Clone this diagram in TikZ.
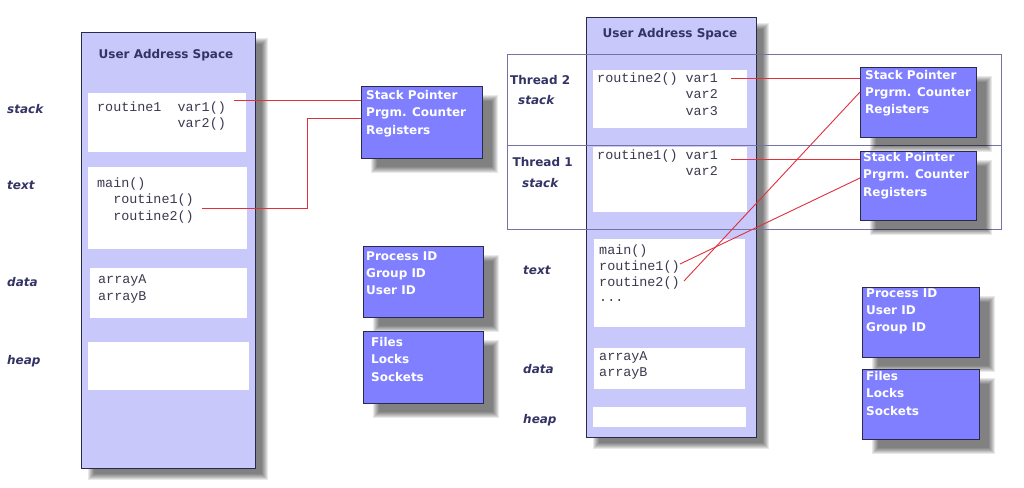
\documentclass[tikz,border=0pt]{standalone}
\usepackage{fontspec}
\setmainfont{DejaVu Sans}
\newfontfamily\monof{Liberation Mono}
\definecolor{navy}{HTML}{333366}
\definecolor{edgec}{HTML}{2A2A4C}
\definecolor{panelfill}{HTML}{C8C8FA}
\definecolor{boxblue}{HTML}{7F7FFF}
\definecolor{codecol}{HTML}{3A3A50}
\definecolor{redc}{HTML}{E0303C}
\definecolor{framec}{HTML}{7474A4}
\newcommand\softshadow[6]{%
  \foreach \k in {-3,...,3}{%
    \fill[black,opacity=0.09] ({#1+#5-\k},{#2+#6-\k}) rectangle ({#1+#3+#5+\k},{#2+#4+#6+\k});}}
\tikzset{
  panelbox/.style={draw=edgec, line width=1.1pt, fill=panelfill, anchor=north west, inner sep=0pt},
  membox/.style={fill=white, draw=none, anchor=north west, inner sep=0pt},
  infobox/.style={draw=edgec, line width=0.9pt, fill=boxblue, anchor=north west, inner sep=0pt},
  infotext/.style={anchor=north west, inner sep=0pt, align=left, text=white,
    font=\fontsize{12}{17.3}\selectfont\bfseries, execute at begin node=\strut},
  codetext/.style={anchor=north west, inner sep=0pt, align=left, text=codecol,
    font=\monof\fontsize{13.4}{16.5}\selectfont, execute at begin node=\strut},
  seglabel/.style={anchor=base west, inner sep=0pt, text=navy,
    font=\fontsize{12}{14}\selectfont\bfseries\itshape},
  thrlabel/.style={anchor=base west, inner sep=0pt, text=navy,
    font=\fontsize{12}{14}\selectfont\bfseries},
  titletext/.style={inner sep=0pt, text=navy, font=\fontsize{12}{14}\selectfont\bfseries},
  redline/.style={draw=redc, line width=0.9pt},
  frameline/.style={draw=framec, line width=0.8pt},
}
\begin{document}
\begin{tikzpicture}[x=1pt,y=-1pt]
\useasboundingbox (0,0) rectangle (1024,487);
\fill[white] (0,0) rectangle (1024,487);

% ---------- left process ----------
\softshadow{81}{32}{174}{436}{10}{9}
\node[panelbox, minimum width=174pt, minimum height=436pt] (lpanel) at (81,32) {};
\node[titletext] (ltitle) at (166,55) {User Address Space};

\node[membox, minimum width=158pt, minimum height=59pt] (lstack) at (88,93) {};
\node[codetext] (lstacktxt) at (97,101.5) {routine1\ \ var1()\\\hphantom{routine1\ \ }var2()};
\node[membox, minimum width=159pt, minimum height=82pt] (ltext) at (88,167) {};
\node[codetext] (ltexttxt) at (97,177.5) {main()\\\ \ routine1()\\\ \ routine2()};
\node[membox, minimum width=157pt, minimum height=50pt] (ldata) at (90,268) {};
\node[codetext] (ldatatxt) at (98,274.5) {arrayA\\arrayB};
\node[membox, minimum width=161pt, minimum height=48pt] (lheap) at (88,342) {};

\node[seglabel] (lstacklab) at (7,113.5) {stack};
\node[seglabel] (ltextlab) at (7,189.5) {text};
\node[seglabel] (ldatalab) at (7,286.5) {data};
\node[seglabel] (lheaplab) at (7,364.5) {heap};

\softshadow{361}{86}{121}{72}{13}{12}
\node[infobox, minimum width=121pt, minimum height=72pt] (lsp) at (361,86) {};
\node[infotext] (lsptxt) at (366,90.3) {Stack Pointer\\Prgm. Counter\\Registers};
\softshadow{363}{246}{120}{71}{13}{12}
\node[infobox, minimum width=120pt, minimum height=71pt] (lpid) at (363,246) {};
\node[infotext] (lpidtxt) at (366,251.3) {Process ID\\Group ID\\User ID};
\softshadow{363}{331}{120}{72}{13}{12}
\node[infobox, minimum width=120pt, minimum height=72pt] (lfiles) at (363,331) {};
\node[infotext] (lfilestxt) at (371,337.3) {Files\\Locks\\Sockets};

\coordinate (lv1) at (234,100);
\coordinate (lr1) at (202,208);
\coordinate (lbend) at (307,118);
\draw[redline] (lv1) -- (lv1 -| lsp.west);
\draw[redline] (lr1) -| (lbend) -- (lbend -| lsp.west);

% ---------- right process ----------
\softshadow{586}{17}{170}{420}{10}{9}
\node[panelbox, minimum width=170pt, minimum height=420pt] (rpanel) at (586,17) {};
\node[titletext] (rtitle) at (670,34) {User Address Space};
\node[draw=framec, line width=0.8pt, anchor=north west, inner sep=0pt,
      minimum width=494pt, minimum height=175pt] (tframe) at (507,54) {};
\coordinate (divl) at (507,145);
\coordinate (divr) at (1001,145);
\draw[frameline] (divl) -- (divr);

\node[membox, minimum width=154pt, minimum height=58pt] (t2stack) at (593,70) {};
\node[codetext] (t2txt) at (597,72.5) {routine2()\ var1\\\hphantom{routine2()\ }var2\\\hphantom{routine2()\ }var3};
\node[membox, minimum width=154pt, minimum height=65pt] (t1stack) at (593,147) {};
\node[codetext] (t1txt) at (597,149.5) {routine1()\ var1\\\hphantom{routine1()\ }var2};
\node[membox, minimum width=151pt, minimum height=88pt] (rtext) at (594,239) {};
\node[codetext, font=\monof\fontsize{13.4}{15.8}\selectfont] (rtexttxt) at (599,244.5) {main()\\routine1()\\routine2()\\...};
\node[membox, minimum width=151pt, minimum height=41pt] (rdata) at (594,348) {};
\node[codetext, font=\monof\fontsize{13.4}{16}\selectfont] (rdatatxt) at (599,351.5) {arrayA\\arrayB};
\node[membox, minimum width=153pt, minimum height=20pt] (rheap) at (593,407) {};

\node[thrlabel] (t2lab) at (510,84.5) {Thread 2};
\node[seglabel] (t2stacklab) at (518,104.5) {stack};
\node[thrlabel] (t1lab) at (512.5,166.5) {Thread 1};
\node[seglabel] (t1stacklab) at (522,187.5) {stack};
\node[seglabel] (rtextlab) at (523,274.5) {text};
\node[seglabel] (rdatalab) at (523,373.5) {data};
\node[seglabel] (rheaplab) at (523,423) {heap};

\softshadow{860}{67}{116}{70}{13}{12}
\node[infobox, minimum width=116pt, minimum height=70pt] (rsp2) at (860,67) {};
\node[infotext] (rsp2txt) at (865,70) {Stack Pointer\\Prgrm. Counter\\Registers};
\softshadow{860}{151}{116}{69}{13}{12}
\node[infobox, minimum width=116pt, minimum height=69pt] (rsp1) at (860,151) {};
\node[infotext] (rsp1txt) at (863,152.3) {Stack Pointer\\Prgrm. Counter\\Registers};
\softshadow{862}{287}{117}{70}{13}{12}
\node[infobox, minimum width=117pt, minimum height=70pt] (rpid) at (862,287) {};
\node[infotext] (rpidtxt) at (866,288.3) {Process ID\\User ID\\Group ID};
\softshadow{862}{369}{117}{70}{13}{12}
\node[infobox, minimum width=117pt, minimum height=70pt] (rfiles) at (862,369) {};
\node[infotext] (rfilestxt) at (866,371.3) {Files\\Locks\\Sockets};

\coordinate (t2v1) at (731,78);
\coordinate (t1v1) at (731,159);
\coordinate (rr1) at (680,264);
\coordinate (rr2) at (684,281);
\coordinate (sp2pc) at (860,92);
\coordinate (sp1pc) at (860,178);
\draw[redline] (t2v1) -- (t2v1 -| rsp2.west);
\draw[redline] (t1v1) -- (t1v1 -| rsp1.west);
\draw[redline] (rr1) -- (sp1pc);
\draw[redline] (rr2) -- (sp2pc);
\end{tikzpicture}
\end{document}
